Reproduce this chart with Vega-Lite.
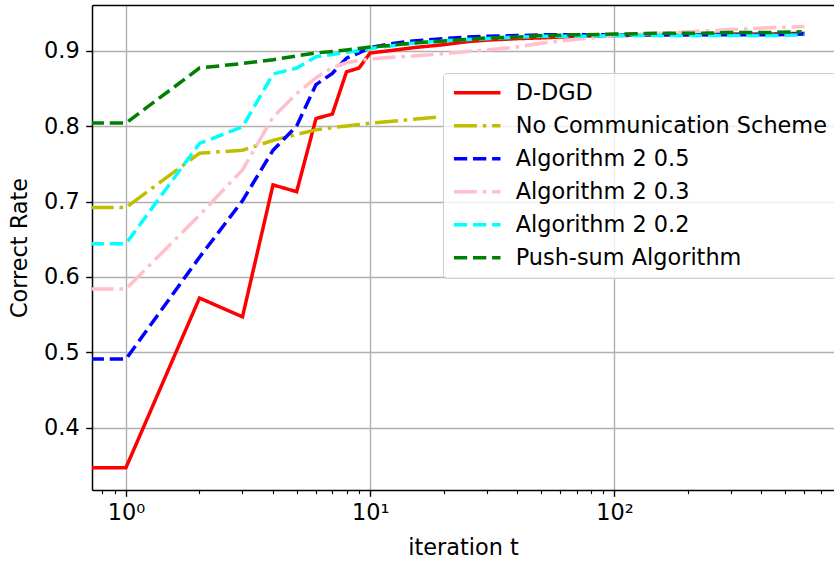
{
  "$schema": "https://vega.github.io/schema/vega-lite/v6.json",
  "autosize": {"type": "none"},
  "width": 742,
  "height": 485,
  "padding": {"left": 92, "top": 5, "right": 0, "bottom": 75},
  "background": "white",
  "config": {
    "font": "DejaVu Sans",
    "view": {"stroke": null}
  },
  "data": {"values": [
    {"s": "D-DGD", "t": 0.5, "v": 0.347}, {"s": "D-DGD", "t": 1, "v": 0.347}, {"s": "D-DGD", "t": 2, "v": 0.572}, {"s": "D-DGD", "t": 3, "v": 0.547}, {"s": "D-DGD", "t": 4, "v": 0.722}, {"s": "D-DGD", "t": 5, "v": 0.713}, {"s": "D-DGD", "t": 6, "v": 0.810}, {"s": "D-DGD", "t": 7, "v": 0.816}, {"s": "D-DGD", "t": 8, "v": 0.872}, {"s": "D-DGD", "t": 9, "v": 0.877}, {"s": "D-DGD", "t": 10, "v": 0.897}, {"s": "D-DGD", "t": 12, "v": 0.900}, {"s": "D-DGD", "t": 15, "v": 0.904}, {"s": "D-DGD", "t": 20, "v": 0.908}, {"s": "D-DGD", "t": 25, "v": 0.912}, {"s": "D-DGD", "t": 30, "v": 0.914}, {"s": "D-DGD", "t": 40, "v": 0.916}, {"s": "D-DGD", "t": 50, "v": 0.917}, {"s": "D-DGD", "t": 70, "v": 0.919}, {"s": "D-DGD", "t": 100, "v": 0.920}, {"s": "D-DGD", "t": 150, "v": 0.921}, {"s": "D-DGD", "t": 200, "v": 0.921}, {"s": "D-DGD", "t": 300, "v": 0.922}, {"s": "D-DGD", "t": 400, "v": 0.922}, {"s": "D-DGD", "t": 600, "v": 0.923},
    {"s": "No Communication Scheme", "t": 0.5, "v": 0.692}, {"s": "No Communication Scheme", "t": 1, "v": 0.692}, {"s": "No Communication Scheme", "t": 2, "v": 0.764}, {"s": "No Communication Scheme", "t": 3, "v": 0.768}, {"s": "No Communication Scheme", "t": 4, "v": 0.781}, {"s": "No Communication Scheme", "t": 5, "v": 0.789}, {"s": "No Communication Scheme", "t": 6, "v": 0.795}, {"s": "No Communication Scheme", "t": 7, "v": 0.798}, {"s": "No Communication Scheme", "t": 8, "v": 0.800}, {"s": "No Communication Scheme", "t": 9, "v": 0.802}, {"s": "No Communication Scheme", "t": 10, "v": 0.804}, {"s": "No Communication Scheme", "t": 12, "v": 0.806}, {"s": "No Communication Scheme", "t": 15, "v": 0.809}, {"s": "No Communication Scheme", "t": 19, "v": 0.812},
    {"s": "Algorithm 2 0.5", "t": 0.5, "v": 0.491}, {"s": "Algorithm 2 0.5", "t": 1, "v": 0.491}, {"s": "Algorithm 2 0.5", "t": 2, "v": 0.626}, {"s": "Algorithm 2 0.5", "t": 3, "v": 0.701}, {"s": "Algorithm 2 0.5", "t": 4, "v": 0.768}, {"s": "Algorithm 2 0.5", "t": 5, "v": 0.800}, {"s": "Algorithm 2 0.5", "t": 6, "v": 0.855}, {"s": "Algorithm 2 0.5", "t": 7, "v": 0.870}, {"s": "Algorithm 2 0.5", "t": 8, "v": 0.890}, {"s": "Algorithm 2 0.5", "t": 9, "v": 0.897}, {"s": "Algorithm 2 0.5", "t": 10, "v": 0.904}, {"s": "Algorithm 2 0.5", "t": 12, "v": 0.909}, {"s": "Algorithm 2 0.5", "t": 15, "v": 0.913}, {"s": "Algorithm 2 0.5", "t": 20, "v": 0.916}, {"s": "Algorithm 2 0.5", "t": 25, "v": 0.918}, {"s": "Algorithm 2 0.5", "t": 30, "v": 0.919}, {"s": "Algorithm 2 0.5", "t": 40, "v": 0.920}, {"s": "Algorithm 2 0.5", "t": 50, "v": 0.921}, {"s": "Algorithm 2 0.5", "t": 70, "v": 0.921}, {"s": "Algorithm 2 0.5", "t": 100, "v": 0.921}, {"s": "Algorithm 2 0.5", "t": 150, "v": 0.921}, {"s": "Algorithm 2 0.5", "t": 200, "v": 0.921}, {"s": "Algorithm 2 0.5", "t": 300, "v": 0.921}, {"s": "Algorithm 2 0.5", "t": 400, "v": 0.921}, {"s": "Algorithm 2 0.5", "t": 600, "v": 0.922},
    {"s": "Algorithm 2 0.3", "t": 0.5, "v": 0.584}, {"s": "Algorithm 2 0.3", "t": 1, "v": 0.584}, {"s": "Algorithm 2 0.3", "t": 2, "v": 0.682}, {"s": "Algorithm 2 0.3", "t": 3, "v": 0.742}, {"s": "Algorithm 2 0.3", "t": 4, "v": 0.812}, {"s": "Algorithm 2 0.3", "t": 5, "v": 0.843}, {"s": "Algorithm 2 0.3", "t": 6, "v": 0.864}, {"s": "Algorithm 2 0.3", "t": 7, "v": 0.878}, {"s": "Algorithm 2 0.3", "t": 8, "v": 0.884}, {"s": "Algorithm 2 0.3", "t": 9, "v": 0.887}, {"s": "Algorithm 2 0.3", "t": 10, "v": 0.889}, {"s": "Algorithm 2 0.3", "t": 12, "v": 0.891}, {"s": "Algorithm 2 0.3", "t": 15, "v": 0.893}, {"s": "Algorithm 2 0.3", "t": 20, "v": 0.896}, {"s": "Algorithm 2 0.3", "t": 25, "v": 0.899}, {"s": "Algorithm 2 0.3", "t": 30, "v": 0.901}, {"s": "Algorithm 2 0.3", "t": 40, "v": 0.905}, {"s": "Algorithm 2 0.3", "t": 50, "v": 0.910}, {"s": "Algorithm 2 0.3", "t": 70, "v": 0.915}, {"s": "Algorithm 2 0.3", "t": 100, "v": 0.920}, {"s": "Algorithm 2 0.3", "t": 150, "v": 0.923}, {"s": "Algorithm 2 0.3", "t": 200, "v": 0.925}, {"s": "Algorithm 2 0.3", "t": 300, "v": 0.928}, {"s": "Algorithm 2 0.3", "t": 400, "v": 0.930}, {"s": "Algorithm 2 0.3", "t": 600, "v": 0.932},
    {"s": "Algorithm 2 0.2", "t": 0.5, "v": 0.644}, {"s": "Algorithm 2 0.2", "t": 1, "v": 0.644}, {"s": "Algorithm 2 0.2", "t": 2, "v": 0.777}, {"s": "Algorithm 2 0.2", "t": 3, "v": 0.799}, {"s": "Algorithm 2 0.2", "t": 4, "v": 0.869}, {"s": "Algorithm 2 0.2", "t": 5, "v": 0.877}, {"s": "Algorithm 2 0.2", "t": 6, "v": 0.892}, {"s": "Algorithm 2 0.2", "t": 7, "v": 0.895}, {"s": "Algorithm 2 0.2", "t": 8, "v": 0.898}, {"s": "Algorithm 2 0.2", "t": 9, "v": 0.900}, {"s": "Algorithm 2 0.2", "t": 10, "v": 0.903}, {"s": "Algorithm 2 0.2", "t": 12, "v": 0.906}, {"s": "Algorithm 2 0.2", "t": 15, "v": 0.910}, {"s": "Algorithm 2 0.2", "t": 20, "v": 0.913}, {"s": "Algorithm 2 0.2", "t": 25, "v": 0.915}, {"s": "Algorithm 2 0.2", "t": 30, "v": 0.916}, {"s": "Algorithm 2 0.2", "t": 40, "v": 0.918}, {"s": "Algorithm 2 0.2", "t": 50, "v": 0.919}, {"s": "Algorithm 2 0.2", "t": 70, "v": 0.919}, {"s": "Algorithm 2 0.2", "t": 100, "v": 0.920}, {"s": "Algorithm 2 0.2", "t": 150, "v": 0.920}, {"s": "Algorithm 2 0.2", "t": 200, "v": 0.920}, {"s": "Algorithm 2 0.2", "t": 300, "v": 0.920}, {"s": "Algorithm 2 0.2", "t": 400, "v": 0.920}, {"s": "Algorithm 2 0.2", "t": 600, "v": 0.921},
    {"s": "Push-sum Algorithm", "t": 0.5, "v": 0.804}, {"s": "Push-sum Algorithm", "t": 1, "v": 0.804}, {"s": "Push-sum Algorithm", "t": 2, "v": 0.877}, {"s": "Push-sum Algorithm", "t": 3, "v": 0.883}, {"s": "Push-sum Algorithm", "t": 4, "v": 0.888}, {"s": "Push-sum Algorithm", "t": 5, "v": 0.893}, {"s": "Push-sum Algorithm", "t": 6, "v": 0.897}, {"s": "Push-sum Algorithm", "t": 7, "v": 0.899}, {"s": "Push-sum Algorithm", "t": 8, "v": 0.901}, {"s": "Push-sum Algorithm", "t": 9, "v": 0.903}, {"s": "Push-sum Algorithm", "t": 10, "v": 0.905}, {"s": "Push-sum Algorithm", "t": 12, "v": 0.907}, {"s": "Push-sum Algorithm", "t": 15, "v": 0.910}, {"s": "Push-sum Algorithm", "t": 20, "v": 0.913}, {"s": "Push-sum Algorithm", "t": 25, "v": 0.915}, {"s": "Push-sum Algorithm", "t": 30, "v": 0.917}, {"s": "Push-sum Algorithm", "t": 40, "v": 0.918}, {"s": "Push-sum Algorithm", "t": 50, "v": 0.920}, {"s": "Push-sum Algorithm", "t": 70, "v": 0.921}, {"s": "Push-sum Algorithm", "t": 100, "v": 0.922}, {"s": "Push-sum Algorithm", "t": 150, "v": 0.923}, {"s": "Push-sum Algorithm", "t": 200, "v": 0.923}, {"s": "Push-sum Algorithm", "t": 300, "v": 0.924}, {"s": "Push-sum Algorithm", "t": 400, "v": 0.924}, {"s": "Push-sum Algorithm", "t": 585, "v": 0.925}
  ]},
  "layer": [
    {
      "mark": {"type": "line", "strokeWidth": 3.5, "clip": true},
      "encoding": {
        "x": {
          "field": "t", "type": "quantitative",
          "scale": {"type": "log", "domain": [0.726, 793], "nice": false},
          "axis": {
            "orient": "bottom",
            "values": [0.8, 0.9, 1, 2, 3, 4, 5, 6, 7, 8, 9, 10, 20, 30, 40, 50, 60, 70, 80, 90, 100, 200, 300, 400, 500, 600, 700],
            "labelExpr": "datum.value == 1 ? '10⁰' : datum.value == 10 ? '10¹' : datum.value == 100 ? '10²' : ''",
            "labelOverlap": false,
            "labelFlush": false,
            "grid": true,
            "gridColor": "#b0b0b0",
            "gridWidth": 1.4,
            "gridOpacity": {"condition": {"test": "datum.value == 1 || datum.value == 10 || datum.value == 100", "value": 1}, "value": 0},
            "tickSize": {"condition": {"test": "datum.value == 1 || datum.value == 10 || datum.value == 100", "value": 6.3}, "value": 3.6},
            "tickWidth": {"condition": {"test": "datum.value == 1 || datum.value == 10 || datum.value == 100", "value": 1.4}, "value": 1.1},
            "tickColor": "black",
            "domainColor": "black",
            "domainWidth": 1.5,
            "labelFontSize": 22.4,
            "labelColor": "black",
            "labelPadding": 5,
            "title": "iteration t",
            "titleFontSize": 22.4,
            "titleFontWeight": "normal",
            "titleColor": "black",
            "titlePadding": 13
          }
        },
        "y": {
          "field": "v", "type": "quantitative",
          "scale": {"domain": [0.3174, 0.9606], "nice": false, "zero": false},
          "axis": {
            "values": [0.4, 0.5, 0.6, 0.7, 0.8, 0.9],
            "format": ".1f",
            "grid": true,
            "gridColor": "#b0b0b0",
            "gridWidth": 1.4,
            "tickSize": 6.3,
            "tickWidth": 1.4,
            "tickColor": "black",
            "domainColor": "black",
            "domainWidth": 1.5,
            "labelFontSize": 22.4,
            "labelColor": "black",
            "labelPadding": 6.5,
            "title": "Correct Rate",
            "titleFontSize": 22.4,
            "titleFontWeight": "normal",
            "titleColor": "black",
            "titlePadding": 12
          }
        },
        "color": {
          "field": "s", "type": "nominal",
          "scale": {
            "domain": ["D-DGD", "No Communication Scheme", "Algorithm 2 0.5", "Algorithm 2 0.3", "Algorithm 2 0.2", "Push-sum Algorithm"],
            "range": ["#ff0000", "#bfbf00", "#0000ff", "#ffc0cb", "#00ffff", "#008000"]
          },
          "legend": {
            "orient": "none",
            "legendX": 351,
            "legendY": 68,
            "title": null,
            "symbolType": "stroke",
            "symbolStrokeWidth": 3.5,
            "symbolSize": 2170,
            "clipHeight": 22,
            "labelFontSize": 22.4,
            "labelColor": "black",
            "labelOffset": 13,
            "labelLimit": 400,
            "rowPadding": 10,
            "padding": 8.7,
            "fillColor": "rgba(255,255,255,0.8)",
            "strokeColor": "#cccccc",
            "cornerRadius": 4
          }
        },
        "strokeDash": {
          "field": "s", "type": "nominal",
          "scale": {
            "domain": ["D-DGD", "No Communication Scheme", "Algorithm 2 0.5", "Algorithm 2 0.3", "Algorithm 2 0.2", "Push-sum Algorithm"],
            "range": [[1, 0], [23, 5.8, 3.6, 5.8], [13.3, 5.8], [23, 5.8, 3.6, 5.8], [13.3, 5.8], [13.3, 5.8]]
          }
        }
      }
    },
    {
      "mark": {"type": "point", "opacity": 0, "clip": true},
      "encoding": {
        "x": {
          "field": "t", "type": "quantitative",
          "axis": {"orient": "top", "labels": false, "ticks": false, "grid": false, "title": null, "domainColor": "black", "domainWidth": 1.5}
        }
      }
    }
  ],
  "resolve": {"axis": {"x": "independent"}}
}
